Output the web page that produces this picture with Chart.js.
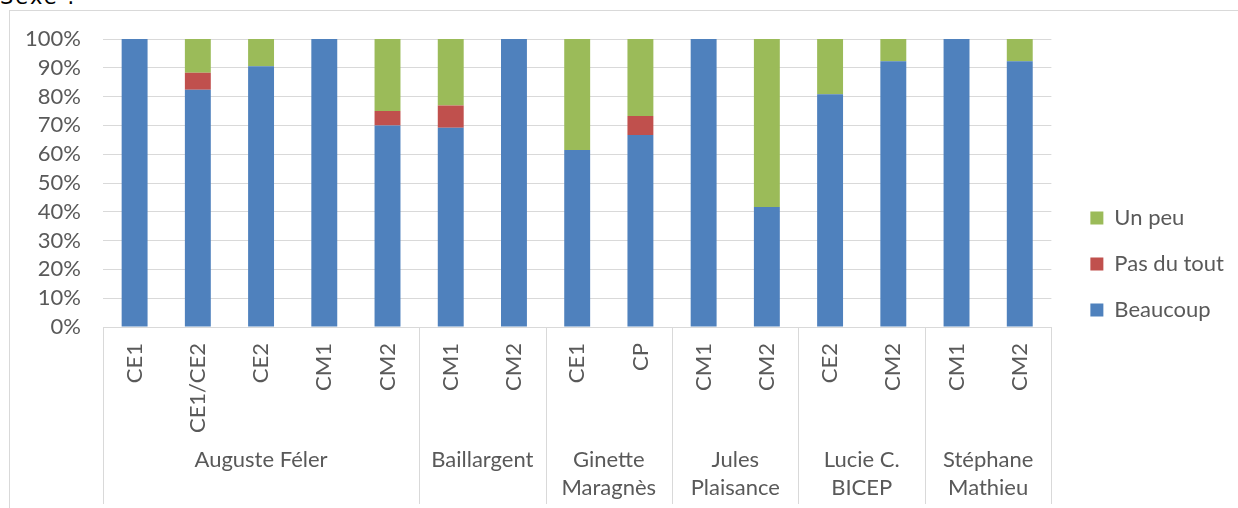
<!DOCTYPE html>
<html>
<head>
<meta charset="utf-8">
<script src="https://cdn.jsdelivr.net/npm/chart.js@4.4.0/dist/chart.umd.min.js"></script>
<style>
    body { margin: 0; background: #fff; width: 1238px; height: 508px; overflow: hidden; position: relative; }
    #entete { position: absolute; left: 0; top: -15px; font-family: "DejaVu Sans", sans-serif; font-size: 21px; color: #000; letter-spacing: 2px; }
    #cadre { position: absolute; left: 9px; top: 10px; width: 1240px; height: 510px; border-left: 1px solid #d9d9d9; border-top: 1px solid #d9d9d9; }
    #graphique { position: absolute; left: 0; top: 0; }
</style>
</head>
<body>
<div id="entete">Sexe :</div>
<div id="cadre">
    <canvas id="graphique" width="1228" height="497"></canvas>
</div>
<script>
// Classes (une barre par classe)
const classes = ['CE1', 'CE1/CE2', 'CE2', 'CM1', 'CM2', 'CM1', 'CM2', 'CE1', 'CP', 'CM1', 'CM2', 'CE2', 'CM2', 'CM1', 'CM2'];
// Écoles et nombre de classes par école
const ecoles = [['Auguste Féler'], ['Baillargent'], ['Ginette', 'Maragnès'], ['Jules', 'Plaisance'], ['Lucie C.', 'BICEP'], ['Stéphane', 'Mathieu']];
const classesParEcole = [5, 2, 2, 2, 2, 2];

// Pourcentages par réponse
const beaucoup = [100, 82.4, 90.5, 100, 70, 69.2, 100, 61.5, 66.7, 100, 41.7, 80.8, 92.3, 100, 92.3];
const pasDuTout = [0, 5.9, 0, 0, 5, 7.7, 0, 0, 6.6, 0, 0, 0, 0, 0, 0];
const unPeu = [0, 11.7, 9.5, 0, 25, 23.1, 0, 38.5, 26.7, 0, 58.3, 19.2, 7.7, 0, 7.7];

const yTicks = [0, 10, 20, 30, 40, 50, 60, 70, 80, 90, 100];

const gris = '#595959';
const police = 'Lato, "Open Sans", sans-serif';

// Plugin pour dessiner le deuxième niveau de l'axe (les écoles)
const axeEcoles = {
    id: 'axeEcoles',
    afterLayout(chart) {
        // petit décalage de la légende vers la droite
        chart.legend.left += 15;
        chart.legend.right += 15;
    },
    afterDraw(chart) {
        const x = chart.scales.x;
        const ctx = chart.ctx;
        const pas = x.width / classes.length;
        ctx.save();
        ctx.strokeStyle = '#d9d9d9';
        ctx.lineWidth = 1;
        ctx.fillStyle = gris;
        ctx.font = '22px ' + police;
        ctx.textAlign = 'center';
        ctx.textBaseline = 'middle';
        let debut = 0;
        const bas = chart.height - 4;
        ecoles.forEach((nom, i) => {
            const fin = debut + classesParEcole[i] - 1;
            const gauche = x.getPixelForValue(debut) - pas / 2;
            const droite = x.getPixelForValue(fin) + pas / 2;
            ctx.beginPath();
            if (i === 0) {
                ctx.moveTo(Math.round(gauche) + 0.5, x.top);
                ctx.lineTo(Math.round(gauche) + 0.5, bas);
            }
            ctx.moveTo(Math.round(droite) + 0.5, x.top);
            ctx.lineTo(Math.round(droite) + 0.5, bas);
            ctx.stroke();
            nom.forEach((ligne, j) => {
                ctx.fillText(ligne, (gauche + droite) / 2, 449 + j * 28);
            });
            debut = fin + 1;
        });
        ctx.restore();
    }
};

const ctx = document.getElementById('graphique');

const config = {
    type: 'bar',
    data: {
        labels: classes,
        datasets: [
            { label: 'Beaucoup', data: beaucoup, backgroundColor: '#4f81bd' },
            { label: 'Pas du tout', data: pasDuTout, backgroundColor: '#c0504d' },
            { label: 'Un peu', data: unPeu, backgroundColor: '#9bbb59' }
        ]
    },
    options: {
        responsive: false,
        animation: false,
        barPercentage: 0.41,
        categoryPercentage: 1,
        layout: {
            padding: { top: 28, right: 19, left: 0, bottom: 19 }
        },
        plugins: {
            legend: {
                position: 'right',
                reverse: true,
                labels: {
                    boxWidth: 13,
                    boxHeight: 13,
                    padding: 24,
                    color: gris,
                    font: { size: 22, family: police }
                }
            },
            tooltip: { enabled: false }
        },
        scales: {
            x: {
                stacked: true,
                grid: { display: false, drawTicks: false },
                border: { display: true, color: '#d9d9d9' },
                ticks: {
                    minRotation: 90,
                    maxRotation: 90,
                    padding: 16,
                    color: gris,
                    font: { size: 22, family: police }
                },
                afterFit: function(scale) {
                    scale.height = 162;
                    scale.paddingLeft = 0;
                    scale.paddingRight = 0;
                }
            },
            y: {
                stacked: true,
                min: 0,
                max: 100,
                grid: { color: '#d9d9d9', drawTicks: false },
                border: { display: false },
                afterBuildTicks: function(scale) { scale.ticks = yTicks.map(v => ({ value: v })); },
                ticks: {
                    autoSkip: false,
                    padding: 22,
                    color: gris,
                    font: { size: 22, family: police },
                    callback: function(v) { return v + '%'; }
                },
                afterFit: function(scale) {
                    scale.width = 93;
                    scale.paddingTop = 0;
                    scale.paddingBottom = 0;
                }
            }
        }
    },
    plugins: [axeEcoles]
};

new Chart(ctx, config);
</script>
</body>
</html>
